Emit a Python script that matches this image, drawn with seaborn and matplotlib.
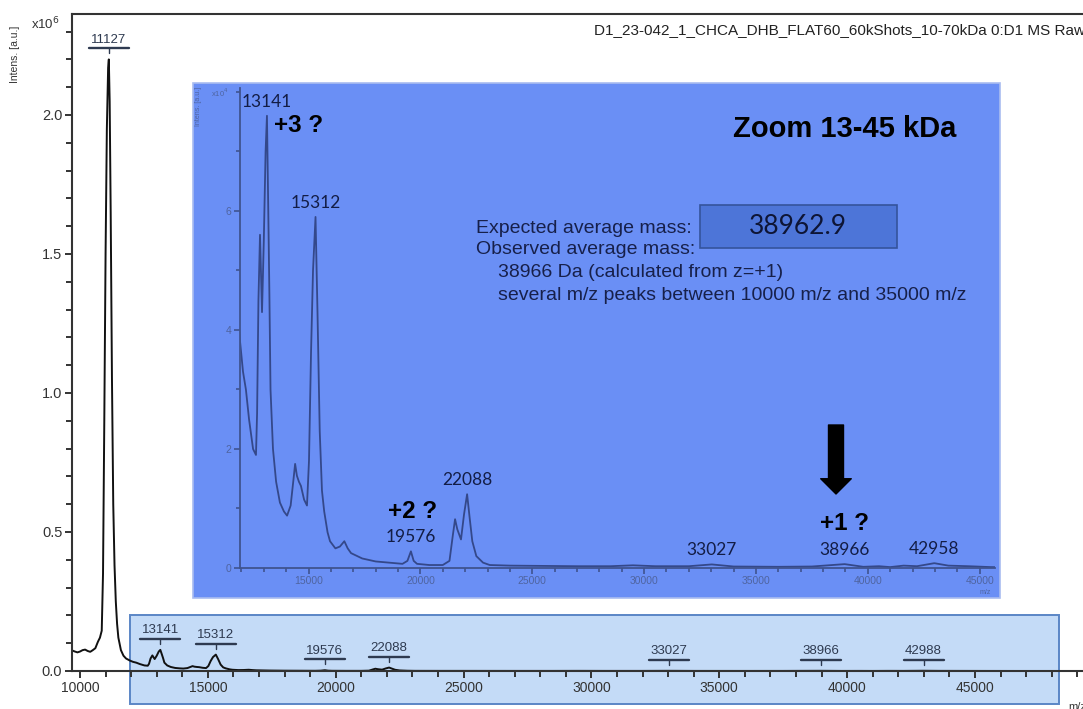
import matplotlib
matplotlib.use("Agg")
import numpy as np
import pandas as pd
import matplotlib.pyplot as plt
import matplotlib.transforms as mtransforms
from matplotlib.patches import Rectangle
from matplotlib.lines import Line2D
from matplotlib.ticker import MultipleLocator, FixedLocator, FuncFormatter
import seaborn as sns

# ---- spectrum: m/z and intensity (x1e4 a.u.) ----
mz = [9690, 9800, 9900, 10000, 10100, 10200, 10300, 10400, 10500, 10600,
      10700, 10780, 10850, 10900, 10950, 11000, 11050, 11100, 11127, 11160,
      11200, 11250, 11300, 11350, 11400, 11450, 11500, 11600, 11700, 11800,
      11900, 11940, 12070, 12200, 12340, 12520, 12650, 12700, 12760, 12830,
      12920, 13000, 13080, 13141, 13200, 13250, 13300, 13410, 13550, 13720,
      13900, 14040, 14200, 14330, 14400, 14480, 14570, 14660, 14800, 14930,
      15020, 15110, 15200, 15312, 15400, 15500, 15600, 15700, 15850, 15960,
      16200, 16400, 16600, 16750, 16900, 17400, 18000, 18600, 19200, 19420,
      19576, 19700, 19850, 20400, 21000, 21300, 21450, 21550, 21650, 21815,
      21950, 22088, 22200, 22320, 22500, 22800, 23100, 24000, 25500, 27000,
      28500, 29500, 30500, 32000, 33027, 34000, 36000, 37500, 38966, 39800,
      40500, 41000, 41600, 42200, 42958, 42988, 43600, 44500, 45500, 46500,
      47500, 49500]
intensity_1e4 = [7.4, 7.0, 6.7, 7.0, 7.5, 7.7, 7.2, 6.9, 7.5, 8.2,
                 10.5, 12.0, 14.5, 35, 90, 150, 195, 217, 220, 205,
                 165, 105, 60, 38, 25, 17, 12, 7.5, 5.5, 4.5,
                 4.0, 3.8, 3.3, 3.0, 2.5, 2.0, 1.9, 2.6, 4.5, 5.6,
                 4.3, 5.5, 7.0, 7.6, 6.0, 4.6, 3.0, 2.0, 1.45, 1.1,
                 0.95, 0.88, 1.05, 1.5, 1.75, 1.55, 1.45, 1.38, 1.15, 1.05,
                 1.8, 3.6, 5.0, 5.9, 4.3, 2.3, 1.3, 0.95, 0.6, 0.45,
                 0.33, 0.36, 0.45, 0.33, 0.25, 0.16, 0.11, 0.09, 0.07, 0.12,
                 0.28, 0.12, 0.07, 0.05, 0.05, 0.12, 0.55, 0.82, 0.65, 0.48,
                 0.9, 1.24, 0.85, 0.45, 0.2, 0.09, 0.05, 0.04, 0.035, 0.03,
                 0.03, 0.045, 0.03, 0.03, 0.06, 0.025, 0.02, 0.025, 0.065, 0.02,
                 0.03, 0.015, 0.04, 0.03, 0.08, 0.08, 0.04, 0.03, 0.015, 0.01,
                 0.01, 0.01]
intensity = np.array(intensity_1e4) * 1e4

# peak annotations on the full-range trace
full_peak_mz = [11127, 13141, 15312, 19576, 22088, 33027, 38966, 42988]
full_peak_labels = ["11127", "13141", "15312", "19576", "22088", "33027", "38966", "42988"]

# peak annotations on the 13-45 kDa zoom
zoom_peak_mz = [13141, 15312, 19576, 22088, 33027, 38966, 42958]
zoom_peak_labels = ["13141", "15312", "19576", "22088", "33027", "38966", "42958"]

title_text = "D1_23-042_1_CHCA_DHB_FLAT60_60kShots_10-70kDa 0:D1 MS Raw"
expected_mass = "38962.9"

W, H = 1083, 709


def fx(x):
    return x / W


def fy(y):
    return 1 - y / H


sns.set_theme(style="ticks")
plt.rcParams['font.family'] = ['Liberation Sans', 'DejaVu Sans']

fig = plt.figure(figsize=(W / 100, H / 100), dpi=100)
fig.patch.set_facecolor("white")

spec = pd.DataFrame({"mz": mz, "intensity": intensity})

# highlighted zoom window, drawn beneath the full trace
fig.add_artist(Rectangle((fx(130), fy(704)), (1059 - 130) / W, (704 - 615) / H,
                         transform=fig.transFigure, facecolor="#c4dbf7",
                         edgecolor="#5b86c6", lw=1.4, zorder=0.5))

# ---------------- full-range spectrum ----------------
ax = fig.add_axes([fx(72), fy(671), (1100 - 72) / W, (671 - 14) / H], zorder=1)
ax.set_facecolor("none")
sns.lineplot(data=spec, x="mz", y="intensity", ax=ax, color="#111111",
             lw=1.4, sort=False, estimator=None)
ax.set_xlim(9687, 49890)
ax.set_ylim(0, 2.3633e6)
ax.set_xlabel("")
ax.set_ylabel("")
for s in ax.spines.values():
    s.set_color("#333333")
    s.set_linewidth(1.5)
ax.xaxis.set_major_locator(MultipleLocator(5000))
ax.xaxis.set_minor_locator(MultipleLocator(1000))
ax.yaxis.set_major_locator(MultipleLocator(0.5e6))
ax.yaxis.set_minor_locator(MultipleLocator(0.1e6))
ax.xaxis.set_major_formatter(FuncFormatter(lambda v, p: f"{int(round(v))}"))
ax.yaxis.set_major_formatter(FuncFormatter(lambda v, p: f"{v / 1e6:.1f}"))
ax.tick_params(which="both", direction="out", color="#333333", width=1.4,
               labelsize=10, labelcolor="#333333", pad=2)
ax.tick_params(axis="y", labelsize=10.5)
ax.tick_params(which="major", length=5)
ax.tick_params(which="minor", length=4)


def underlined_tag(axis, x, label, color="#2e3a50", size=9.5):
    y = np.interp(x, mz, intensity)
    px, py = axis.transData.transform((x, y))
    ident = mtransforms.IdentityTransform()
    axis.add_line(Line2D([px, px], [py + 6, py + 11], transform=ident,
                         color=color, lw=1.0, clip_on=False))
    axis.add_line(Line2D([px - 20, px + 20], [py + 11, py + 11], transform=ident,
                         color=color, lw=1.7, clip_on=False))
    axis.annotate(label, xy=(x, y), xytext=(0, 13.5 * 0.72),
                  textcoords="offset points", ha="center", va="bottom",
                  fontsize=size, color=color, annotation_clip=False)


for pm, pl in zip(full_peak_mz, full_peak_labels):
    underlined_tag(ax, pm, pl)

fig.text(fx(15), fy(54), "Intens. [a.u.]", rotation=90, ha="center", va="center",
         fontsize=7.5, color="#333333")
fig.text(fx(31), fy(24), r"x10$^{6}$", ha="left", va="center", fontsize=9.5,
         color="#333333")
fig.text(fx(594), fy(30), title_text, ha="left", va="center", fontsize=11,
         color="#222222")
fig.text(fx(1068), fy(712), "m/z", ha="left", va="bottom", fontsize=8,
         color="#333333")

# ---------------- zoom panel 13-45 kDa ----------------
fig.add_artist(Rectangle((fx(193), fy(598)), (1000 - 193) / W, (598 - 83) / H,
                         transform=fig.transFigure, facecolor="#6a8ff5",
                         edgecolor="#a9bcf0", lw=1.2, zorder=2))

ax_in = fig.add_axes([fx(240), fy(568), (995 - 240) / W, (568 - 88) / H], zorder=3)
ax_in.set_facecolor("none")
sns.lineplot(data=spec, x="mz", y="intensity", ax=ax_in, color="#34488a",
             lw=1.3, sort=False, estimator=None)
ax_in.set_xlim(11936, 45686)
ax_in.set_ylim(0, 8.067e4)
ax_in.set_xlabel("")
ax_in.set_ylabel("")
ax_in.spines["top"].set_visible(False)
ax_in.spines["right"].set_visible(False)
for s in ("left", "bottom"):
    ax_in.spines[s].set_color("#3f5490")
    ax_in.spines[s].set_linewidth(1.3)
ax_in.xaxis.set_major_locator(MultipleLocator(5000))
ax_in.xaxis.set_minor_locator(MultipleLocator(1000))
ax_in.yaxis.set_major_locator(FixedLocator([0, 2e4, 4e4, 6e4]))
ax_in.yaxis.set_minor_locator(FixedLocator([1e4, 3e4, 5e4, 7e4, 8e4]))
ax_in.xaxis.set_major_formatter(FuncFormatter(lambda v, p: f"{int(round(v))}"))
ax_in.yaxis.set_major_formatter(FuncFormatter(lambda v, p: f"{int(round(v / 1e4))}"))
ax_in.tick_params(which="both", direction="out", color="#3f5490", width=1.2,
                  labelsize=7.5, labelcolor="#4f64a0", pad=2)
ax_in.tick_params(which="major", length=4)
ax_in.tick_params(which="minor", length=3)

for pm, pl in zip(zoom_peak_mz, zoom_peak_labels):
    y = np.interp(pm, mz, intensity)
    ax_in.annotate(pl, xy=(pm, y), xytext=(0, 14 * 0.72), textcoords="offset points",
                   ha="center", va="center", fontsize=12.5, family="Lato",
                   color="#131d45", annotation_clip=False)

fig.text(fx(198), fy(106), "Intens. [a.u.]", rotation=90, ha="center", va="center",
         fontsize=5, color="#4f64a0", zorder=4)
fig.text(fx(211), fy(93), r"x10$^{4}$", ha="left", va="center", fontsize=5.5,
         color="#4f64a0", zorder=4)
fig.text(fx(985), fy(593), "m/z", ha="center", va="center", fontsize=5,
         color="#4f64a0", zorder=4)

fig.text(fx(299), fy(126), "+3 ?", ha="center", va="center", fontsize=17.5,
         weight="bold", color="black", zorder=4)
fig.text(fx(413), fy(512), "+2 ?", ha="center", va="center", fontsize=17.5,
         weight="bold", color="black", zorder=4)
fig.text(fx(845), fy(523), "+1 ?", ha="center", va="center", fontsize=17.5,
         weight="bold", color="black", zorder=4)
fig.text(fx(845), fy(129), "Zoom 13-45 kDa", ha="center", va="center", fontsize=21,
         weight="bold", color="black", zorder=4)

txt_col = "#17204a"
fig.text(fx(476), fy(229), "Expected average mass:", ha="left", va="center",
         fontsize=14, color=txt_col, zorder=4)
fig.text(fx(476), fy(250), "Observed average mass:", ha="left", va="center",
         fontsize=14, color=txt_col, zorder=4)
fig.text(fx(498), fy(272), "38966 Da (calculated from z=+1)", ha="left", va="center",
         fontsize=14, color=txt_col, zorder=4)
fig.text(fx(498), fy(296), "several m/z peaks between 10000 m/z and 35000 m/z",
         ha="left", va="center", fontsize=14, color=txt_col, zorder=4)

fig.add_artist(Rectangle((fx(700), fy(248)), (897 - 700) / W, (248 - 205) / H,
                         transform=fig.transFigure, facecolor="#4d75d8",
                         edgecolor="#34549c", lw=1.2, zorder=4))
fig.text(fx(798), fy(227), expected_mass, ha="center", va="center", fontsize=19,
         family="Lato", color="#0e1535", zorder=5)

ax_in.annotate("", xy=(836, H - 494), xycoords="figure pixels",
               xytext=(836, H - 425), textcoords="figure pixels",
               arrowprops=dict(facecolor="black", edgecolor="black", width=10.8,
                               headwidth=22, headlength=11, shrink=0),
               annotation_clip=False)

fig.savefig("out.png", dpi=100)
